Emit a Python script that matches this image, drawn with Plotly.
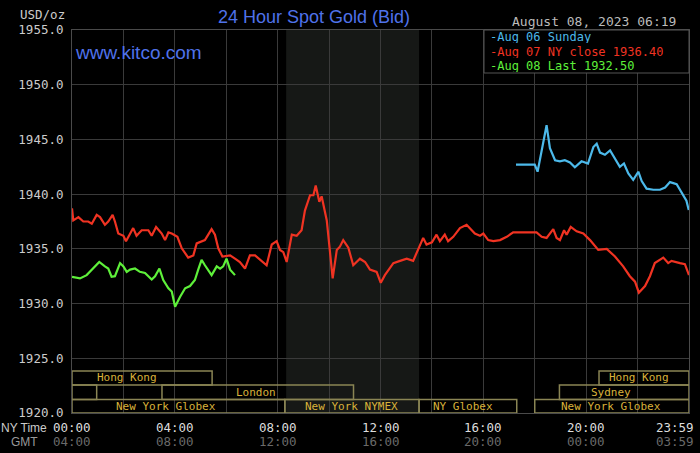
import plotly.graph_objects as go

# ---------------- data ----------------
red_hours = [0.0, 0.05, 0.25, 0.44, 0.63, 0.77, 0.96, 1.09, 1.28, 1.41, 1.58, 1.67, 1.80, 2.0, 2.10, 2.26,
             2.38, 2.51, 2.71, 2.97, 3.10, 3.27, 3.49, 3.62, 3.75, 3.88, 4.10, 4.27, 4.52, 4.72, 4.85, 5.17,
             5.43, 5.56, 5.69, 5.85, 6.15, 6.34, 6.53, 6.73, 6.92, 7.12, 7.31, 7.57, 7.77, 7.96, 8.09, 8.22,
             8.35, 8.55, 8.74, 8.93, 9.06, 9.26, 9.39, 9.48, 9.62, 9.71, 9.91, 10.03, 10.14, 10.30, 10.42,
             10.55, 10.75, 10.94, 11.20, 11.40, 11.59, 11.85, 12.01, 12.17, 12.50, 12.76, 13.02, 13.27, 13.47,
             13.66, 13.79, 14.0, 14.18, 14.31, 14.50, 14.63, 14.83, 15.09, 15.35, 15.48, 15.67, 15.87, 16.0,
             16.19, 16.39, 16.65, 16.91, 17.16, 18.07, 18.27, 18.46, 18.72, 18.85, 18.98, 19.14, 19.24, 19.40,
             19.63, 19.89, 20.15, 20.47, 20.80, 21.12, 21.44, 21.70, 21.90, 22.05, 22.29, 22.48, 22.67, 23.0,
             23.19, 23.32, 23.65, 23.84, 24.0]
red_values = [1938.7, 1937.6, 1937.9, 1937.5, 1937.5, 1937.3, 1938.1, 1937.9, 1937.2, 1937.5, 1938.1, 1937.5,
              1936.4, 1936.2, 1935.7, 1936.4, 1936.9, 1936.2, 1936.7, 1936.7, 1936.2, 1937.0, 1936.4, 1935.8,
              1936.5, 1936.4, 1936.1, 1935.05, 1934.2, 1934.4, 1935.5, 1935.8, 1936.8, 1936.3, 1935.05, 1934.3,
              1934.4, 1934.1, 1933.8, 1933.2, 1934.4, 1934.4, 1934.0, 1933.5, 1935.4, 1935.7, 1934.9, 1934.7,
              1933.8, 1936.3, 1936.2, 1936.7, 1938.5, 1939.9, 1939.9, 1940.8, 1939.3, 1939.8, 1937.6, 1934.6,
              1932.3, 1934.9, 1935.2, 1935.8, 1935.1, 1933.5, 1934.1, 1933.8, 1933.1, 1932.9, 1931.9, 1932.6,
              1933.7, 1933.9, 1934.1, 1933.9, 1934.9, 1936.0, 1935.4, 1935.6, 1936.3, 1935.7, 1936.3, 1935.7,
              1936.1, 1936.9, 1937.2, 1936.9, 1936.4, 1936.2, 1936.4, 1935.8, 1935.7, 1935.8, 1936.1, 1936.5,
              1936.5, 1936.1, 1936.0, 1936.8, 1936.0, 1935.8, 1936.7, 1936.3, 1937.0, 1936.6, 1936.4, 1935.8,
              1934.9, 1935.0, 1934.3, 1933.4, 1932.5, 1932.0, 1931.0, 1931.6, 1932.5, 1933.7, 1934.2, 1933.7,
              1933.9, 1933.7, 1933.6, 1932.6]

green_hours = [0.0, 0.31, 0.57, 0.83, 1.06, 1.28, 1.41, 1.54, 1.67, 1.87, 2.0, 2.13, 2.26, 2.45, 2.64, 2.84,
               3.10, 3.23, 3.40, 3.55, 3.75, 3.88, 4.01, 4.20, 4.40, 4.59, 4.78, 4.91, 5.04, 5.17, 5.30, 5.43,
               5.63, 5.76, 5.88, 6.01, 6.15, 6.34]
green_values = [1932.45, 1932.3, 1932.6, 1933.2, 1933.8, 1933.4, 1933.2, 1932.45, 1932.5, 1933.7, 1933.4,
                1932.9, 1933.1, 1933.2, 1932.9, 1932.8, 1932.2, 1932.5, 1933.2, 1932.15, 1931.4, 1931.1, 1929.7,
                1930.6, 1931.4, 1931.6, 1932.15, 1933.1, 1934.0, 1933.5, 1933.1, 1932.6, 1933.4, 1933.2, 1933.4,
                1934.1, 1933.1, 1932.6]

blue_hours = [17.27, 18.0, 18.11, 18.27, 18.46, 18.59, 18.79, 18.98, 19.17, 19.37, 19.56, 19.82, 20.07, 20.28,
              20.41, 20.54, 20.73, 20.93, 21.12, 21.31, 21.47, 21.64, 21.83, 22.03, 22.16, 22.35, 22.61, 22.87,
              23.07, 23.26, 23.52, 23.71, 23.90, 23.99]
blue_values = [1942.7, 1942.7, 1942.05, 1944.0, 1946.3, 1944.2, 1943.1, 1943.0, 1943.1, 1942.9, 1942.45, 1943.0,
               1942.8, 1944.3, 1944.6, 1943.8, 1943.6, 1944.0, 1943.2, 1942.5, 1942.8, 1941.9, 1941.3, 1942.05,
               1941.2, 1940.5, 1940.4, 1940.4, 1940.6, 1941.1, 1940.9, 1940.1, 1939.4, 1938.55]

legend_labels = ["Aug 06 Sunday", "Aug 07 NY close 1936.40", "Aug 08 Last 1932.50"]

ny_tick_hours = [0, 4, 8, 12, 16, 20, 23.45]
ny_tick_labels = ["00:00", "04:00", "08:00", "12:00", "16:00", "20:00", "23:59"]
gmt_tick_labels = ["04:00", "08:00", "12:00", "16:00", "20:00", "00:00", "03:59"]

# sessions: (row, start hour, end hour, label, label hour)
session_rows = [1, 1, 2, 2, 2, 3, 3, 3, 3]
session_starts = [0, 20.5, 0, 3.5, 18.96, 0, 8.28, 13.5, 18.0]
session_ends = [5.45, 24, 0.96, 10.95, 24, 8.28, 13.5, 17.3, 24]
session_labels = ["Hong Kong", "Hong Kong", "", "London", "Sydney", "New York Globex", "New York NYMEX",
                  "NY Globex", "New York Globex"]
session_label_hours = [2.13, 22.04, 0.5, 7.16, 20.95, 3.66, 10.89, 15.2, 20.96]

# ---------------- figure ----------------
MONO = "DejaVu Sans Mono"
RED = "#f03322"
GREEN = "#5ef03a"
BLUE = "#4cb9ea"
GOLD = "#d9b23a"
BOXC = "#8a8554"

fig = go.Figure()
fig.add_trace(go.Scatter(x=red_hours, y=red_values, mode="lines", line=dict(color=RED, width=2.2)))
fig.add_trace(go.Scatter(x=blue_hours, y=blue_values, mode="lines", line=dict(color=BLUE, width=2.2)))
fig.add_trace(go.Scatter(x=green_hours, y=green_values, mode="lines", line=dict(color=GREEN, width=2.2)))

W, H = 700, 453
L, R, T, B = 72, 11, 30, 40
pw, ph = W - L - R, H - T - B


def px(x):
    return (x - L) / pw


def py(y):
    return (H - B - y) / ph


shapes = []
annotations = []
# NYMEX shaded region
shapes.append(dict(type="rect", xref="x", yref="y", x0=8.33, x1=13.5, y0=1920, y1=1955,
                   fillcolor="#161816", line=dict(width=0), layer="below"))

row_bounds = {1: (1922.56, 1923.84), 2: (1921.23, 1922.56), 3: (1920.0, 1921.23)}
for r, s, e, lab, lh in zip(session_rows, session_starts, session_ends, session_labels, session_label_hours):
    y0, y1 = row_bounds[r]
    shapes.append(dict(type="rect", xref="x", yref="y", x0=s, x1=e, y0=y0, y1=y1,
                       line=dict(color=BOXC, width=1.5), fillcolor="rgba(0,0,0,0)", layer="above"))
    if lab:
        annotations.append(dict(x=lh, y=(y0 + y1) / 2, xref="x", yref="y", text=lab, showarrow=False,
                                font=dict(family=MONO, size=11, color=GOLD), xanchor="center", yanchor="middle"))

# legend box
shapes.append(dict(type="rect", xref="paper", yref="paper", x0=px(484), x1=1, y0=py(73), y1=1,
                   fillcolor="#000000", line=dict(color="#555555", width=1), layer="above"))
for lab, col, yy in zip(legend_labels, [BLUE, RED, GREEN], [36.5, 51, 65.5]):
    annotations.append(dict(x=px(489), y=py(yy), xref="paper", yref="paper", text="-" + lab, showarrow=False,
                            font=dict(family=MONO, size=12, color=col), xanchor="left", yanchor="middle",
                            borderpad=0, height=13, valign="middle"))

# titles / labels
annotations.append(dict(x=px(314), y=py(17), xref="paper", yref="paper", text="24 Hour Spot Gold (Bid)",
                        showarrow=False, font=dict(family="Liberation Sans", size=18, color="#4f72ea"),
                        xanchor="center", yanchor="middle"))
annotations.append(dict(x=px(73), y=py(53), xref="paper", yref="paper", text="www.kitco.com",
                        showarrow=False, font=dict(family="Liberation Sans", size=19, color="#4f72ea"),
                        xanchor="left", yanchor="middle"))
annotations.append(dict(x=px(678), y=py(22), xref="paper", yref="paper", text="August 08, 2023 06:19",
                        showarrow=False, font=dict(family=MONO, size=13, color="#bbbbbb"),
                        xanchor="right", yanchor="middle"))
annotations.append(dict(x=px(67), y=py(14.5), xref="paper", yref="paper", text="USD/oz",
                        showarrow=False, font=dict(family=MONO, size=12.5, color="#cccccc"),
                        xanchor="right", yanchor="middle"))
annotations.append(dict(x=px(-1), y=py(427.5), xref="paper", yref="paper", text="NY Time",
                        showarrow=False, font=dict(family="Liberation Sans Narrow, Liberation Sans", size=12, color="#cccccc"),
                        xanchor="left", yanchor="middle"))
annotations.append(dict(x=px(9), y=py(441.5), xref="paper", yref="paper", text="GMT",
                        showarrow=False, font=dict(family="Liberation Sans Narrow, Liberation Sans", size=12, color="#999999"),
                        xanchor="left", yanchor="middle"))
for hh, nyl, gl in zip(ny_tick_hours, ny_tick_labels, gmt_tick_labels):
    annotations.append(dict(x=hh, y=py(427.5), xref="x", yref="paper", text=nyl, showarrow=False,
                            font=dict(family=MONO, size=12.5, color="#dddddd"), xanchor="center", yanchor="middle"))
    annotations.append(dict(x=hh, y=py(441.5), xref="x", yref="paper", text=gl, showarrow=False,
                            font=dict(family=MONO, size=12.5, color="#6a6a6a"), xanchor="center", yanchor="middle"))

fig.update_layout(
    width=W, height=H,
    margin=dict(l=L, r=R, t=T, b=B, pad=0),
    paper_bgcolor="#000000",
    plot_bgcolor="#000000",
    showlegend=False,
    shapes=shapes,
    annotations=annotations,
    xaxis=dict(range=[0, 24], dtick=2, tick0=0, showgrid=True, gridcolor="#3a3a3a", gridwidth=1,
               showticklabels=False, zeroline=False, showline=True, linecolor="#4a4a4a", mirror=True,
               fixedrange=True),
    yaxis=dict(range=[1920, 1955], dtick=5, tick0=1920, showgrid=True, gridcolor="#3a3a3a", gridwidth=1,
               tickformat=".1f", tickfont=dict(family=MONO, size=12.5, color="#cccccc"),
               ticks="outside", ticklen=5, tickcolor="#000000",
               zeroline=False, showline=True, linecolor="#4a4a4a", mirror=True, fixedrange=True),
)

fig.write_html("out.html", config={"displayModeBar": False},
               post_script="document.body.style.margin='0';document.body.style.background='#000';")
